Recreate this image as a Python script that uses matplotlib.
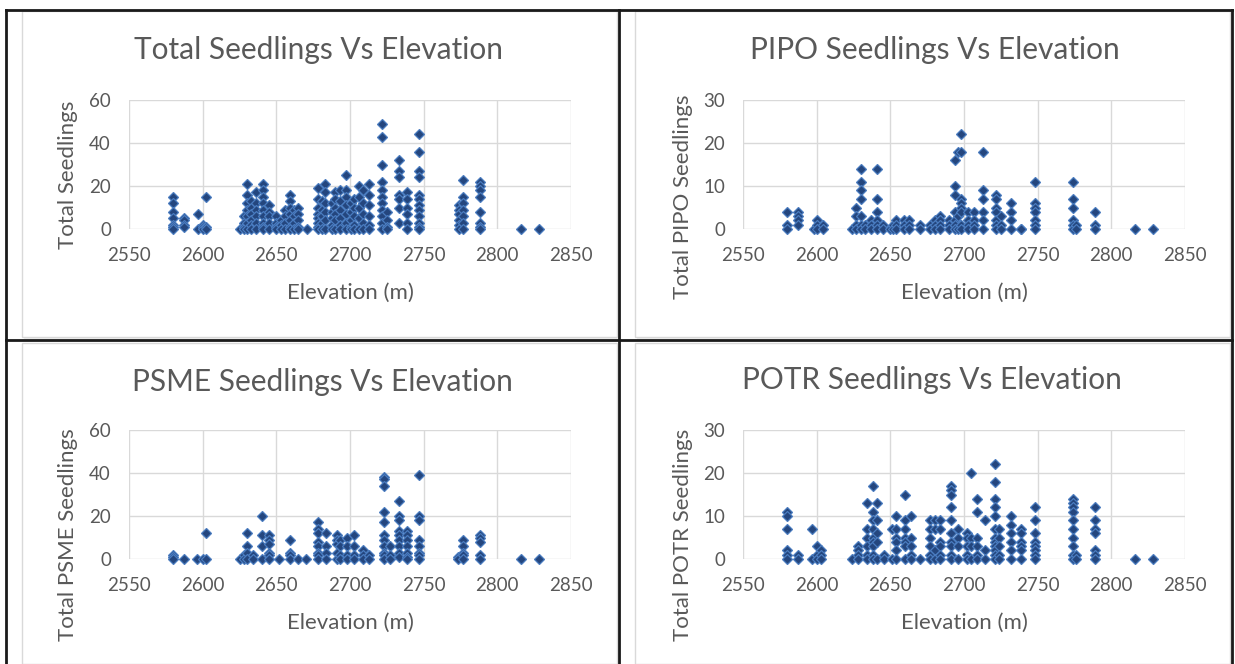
import numpy as np
import matplotlib
matplotlib.use("Agg")
import matplotlib.pyplot as plt
from matplotlib.patches import Rectangle
from matplotlib.lines import Line2D

# ---- data: elevation columns and the seedling counts read at each column ----
total_elev = [2580, 2587, 2597, 2600, 2602, 2625, 2628, 2630, 2633, 2636, 2641, 2645,
              2650, 2653, 2656, 2659, 2662, 2665, 2671, 2678, 2681, 2683, 2688, 2690,
              2693, 2697, 2701, 2703, 2706, 2709, 2713, 2722, 2725, 2733, 2739, 2747,
              2774, 2777, 2788, 2816, 2828]
total_vals = [[15, 12, 8, 5, 2, 1, 0], [5, 4, 2, 1], [7, 0], [2, 1, 0], [15, 1, 0], [0],
              [6, 3, 1, 0], [21, 16, 12, 9, 6, 3, 0], [13, 10, 7, 4, 2, 0],
              [17, 12, 9, 6, 3, 0], [21, 18, 15, 12, 9, 6, 3, 1, 0], [11, 8, 6, 3, 0],
              [6, 3, 1, 0], [4, 2, 0], [9, 6, 3, 0], [16, 13, 10, 7, 4, 1, 0], [9, 6, 3, 0],
              [10, 7, 4, 1, 0], [0], [19, 14, 10, 7, 5, 3, 1, 0], [13, 9, 6, 3, 0],
              [21, 17, 12, 8, 4, 0], [12, 8, 5, 2, 0], [17, 14, 10, 7, 4, 0],
              [18, 13, 9, 5, 2, 0], [25, 18, 15, 11, 7, 3, 0], [12, 8, 4, 1, 0],
              [14, 10, 6, 2, 0], [20, 15, 10, 5, 0], [18, 12, 7, 3, 0], [21, 16, 11, 6, 2, 0],
              [49, 43, 30, 22, 18, 15, 12, 9, 6, 3, 0], [8, 4, 1, 0],
              [32, 27, 24, 16, 14, 10, 3], [17, 14, 10, 7, 3, 0],
              [44, 36, 27, 24, 16, 14, 11, 9, 6, 3, 1, 0], [11, 9, 7, 4, 2, 0],
              [23, 15, 12, 9, 6, 3, 0], [22, 20, 18, 15, 8, 3, 1, 0], [0], [0]]

pipo_elev = [2580, 2587, 2598, 2600, 2604, 2624, 2627, 2630, 2633, 2637, 2641, 2645,
             2650, 2652, 2654, 2659, 2663, 2670, 2677, 2680, 2684, 2690, 2694, 2696,
             2698, 2703, 2707, 2713, 2722, 2725, 2732, 2739, 2748, 2774, 2776, 2789,
             2816, 2828]
pipo_vals = [[4, 1, 0], [4, 3, 2, 1], [0], [2, 1, 0], [1, 0], [0], [5, 3, 1, 0],
             [14, 11, 9, 7, 3, 1, 0], [1, 0], [2, 1, 0], [14, 7, 4, 2, 1, 0], [1, 0],
             [0], [1, 0], [2, 1, 0], [2, 1, 0], [2, 1, 0], [1, 0], [1, 0], [2, 1, 0],
             [3, 2, 1, 0], [2, 1, 0], [16, 10, 8, 4, 2, 1, 0], [18, 3, 0],
             [22, 18, 7, 6, 5, 4, 1, 0], [4, 2, 1, 0], [4, 2, 1, 0], [18, 9, 7, 4, 2, 0],
             [8, 7, 5, 4, 2, 1, 0], [3, 1, 0], [6, 4, 2, 0], [0, 0],
             [11, 6, 5, 4, 2, 1, 0], [11, 7, 5, 2, 1, 0], [1, 0], [4, 1, 0], [0], [0]]

psme_elev = [2580, 2587, 2596, 2600, 2602, 2625, 2628, 2630, 2634, 2640, 2645, 2652,
             2659, 2665, 2670, 2678, 2684, 2691, 2693, 2698, 2703, 2709, 2713, 2723,
             2727, 2733, 2739, 2747, 2773, 2777, 2788, 2816, 2828]
psme_vals = [[2, 1, 0], [0], [0], [0], [12, 0], [0], [2, 0], [12, 6, 3, 0], [2, 0],
             [20, 11, 6, 0], [11, 9, 7, 3, 2, 0], [0], [9, 3, 2, 0], [0], [0],
             [17, 14, 12, 8, 6, 3, 2, 0], [12, 6, 3, 0], [11, 9, 7, 3, 0], [9, 6, 2, 0],
             [10, 6, 2, 0], [11, 6, 2, 0], [4, 2, 0], [2, 0],
             [38, 37, 34, 22, 17, 11, 9, 6, 3, 2, 0], [6, 2, 0],
             [27, 20, 18, 13, 11, 9, 6, 3, 1], [13, 11, 9, 6, 3, 1, 0],
             [39, 20, 18, 9, 6, 3, 2, 0], [1, 0], [9, 6, 3, 2, 0], [11, 10, 8, 2, 0],
             [0], [0]]

potr_elev = [2580, 2587, 2597, 2600, 2603, 2624, 2628, 2634, 2638, 2641, 2646, 2651,
             2654, 2660, 2664, 2670, 2677, 2680, 2684, 2691, 2696, 2702, 2705, 2709,
             2714, 2721, 2724, 2732, 2739, 2748, 2774, 2776, 2789, 2816, 2828]
potr_vals = [[11, 10, 7, 2, 1, 0], [1, 0], [7, 0], [3, 1, 0], [2, 1, 0], [0],
             [3, 2, 1, 0], [13, 7, 5, 3, 1, 0], [17, 11, 9, 7, 5, 4, 3, 1, 0],
             [13, 9, 6, 4, 0], [1, 0], [7, 0], [10, 7, 5, 4, 2, 0],
             [15, 9, 7, 5, 4, 3, 0], [10, 5, 3, 1, 0], [0], [9, 7, 5, 3, 1, 0],
             [9, 7, 2, 0], [9, 7, 4, 3, 1, 0], [17, 16, 15, 12, 9, 6, 4, 3, 1, 0],
             [7, 5, 3, 0], [6, 5, 3, 1, 0], [20, 5, 3, 0], [14, 11, 5, 3, 1, 0],
             [9, 2, 0], [22, 18, 14, 12, 10, 7, 5, 4, 3, 2, 1, 0], [7, 5, 3, 1, 0],
             [10, 8, 6, 4, 2, 0], [7, 6, 4, 3, 2, 0], [12, 9, 6, 4, 3, 2, 1, 0],
             [14, 13, 12, 11, 9, 7, 5, 3, 1, 0], [1, 0], [12, 9, 7, 6, 2, 1, 0],
             [0], [0]]

titles = ["Total Seedlings Vs Elevation", "PIPO Seedlings Vs Elevation",
          "PSME Seedlings Vs Elevation", "POTR Seedlings Vs Elevation"]
ylabels = ["Total Seedlings", "Total PIPO Seedlings",
           "Total PSME Seedlings", "Total POTR Seedlings"]
xlabel = "Elevation (m)"
xticks = [2550, 2600, 2650, 2700, 2750, 2800, 2850]
yticks_60 = [0, 20, 40, 60]
yticks_30 = [0, 10, 20, 30]

W, H = 1235, 664
plt.rcParams['font.family'] = ['Lato', 'DejaVu Sans']
TXT = '#595959'

fig = plt.figure(figsize=(W / 100, H / 100), dpi=100)
fig.patch.set_facecolor('white')


def fx(px):
    return px / W


def fy(py):
    return 1 - py / H


# cell frames (black) and the chart boxes (light grey)
for (x0, y0, x1, y1) in [(22, 11, 617, 337), (635, 11, 1230, 337),
                         (22, 343, 617, 664), (635, 343, 1230, 664)]:
    fig.patches.append(Rectangle((fx(x0) + 0.002, fy(y1) - 0.004), fx(x1 - x0), fy(y0) - fy(y1),
                                 transform=fig.transFigure, fc='#EFEFEF', ec='none', zorder=0))
    fig.patches.append(Rectangle((fx(x0), fy(y1)), fx(x1 - x0), fy(y0) - fy(y1),
                                 transform=fig.transFigure, fc='white', ec='#D9D9D9',
                                 lw=1, zorder=0.5))
for (xa, ya, xb, yb) in [(6, 10, 1232, 10), (6, 340, 1232, 340), (6, 10, 6, 664),
                         (619, 10, 619, 664), (1232, 10, 1232, 664)]:
    fig.lines.append(Line2D([fx(xa), fx(xb)], [fy(ya), fy(yb)], transform=fig.transFigure,
                            color='#1a1a1a', lw=2, zorder=5))

panels = [
    (total_elev, total_vals, 129, 100, yticks_60, 319, 50, 68, 175),
    (pipo_elev, pipo_vals, 743, 100, yticks_30, 935, 50, 683, 197),
    (psme_elev, psme_vals, 129, 430, yticks_60, 322, 382, 68, 535),
    (potr_elev, potr_vals, 743, 430, yticks_30, 932, 380, 683, 535),
]

for i, (elev, vals, left, top, yt, tx, ty, lx, ly) in enumerate(panels):
    ax = fig.add_axes([fx(left), fy(top + 129), fx(442), 129 / H])
    ax.set_zorder(3)
    xs = []
    ys = []
    for e, col in zip(elev, vals):
        for v in col:
            xs.append(e)
            ys.append(v)
    ax.plot(xs, ys, linestyle='none', marker='D', ms=4.6, mfc='#24467E',
            mec='#4A7CC0', mew=0.9, zorder=3, clip_on=False)
    ax.set_xlim(2550, 2850)
    ax.set_ylim(yt[0], yt[-1])
    ax.set_xticks(xticks)
    ax.set_yticks(yt)
    ax.grid(True, color='#D9D9D9', lw=1)
    ax.set_axisbelow(True)
    for s in ax.spines.values():
        s.set_visible(False)
    ax.tick_params(length=0, labelsize=13.5, colors=TXT, pad=13)
    ax.tick_params(axis='x', pad=13)
    ax.set_facecolor('none')
    fig.text(fx(tx), fy(ty), titles[i], fontsize=21.5, color=TXT, ha='center', va='center',
             zorder=6)
    fig.text(fx(lx), fy(ly), ylabels[i], fontsize=16, color=TXT, ha='center',
             va='center', rotation=90, zorder=6)
    fig.text(fx(left + 221), fy(top + 193), xlabel, fontsize=16, color=TXT,
             ha='center', va='center', zorder=6)

fig.savefig('out.png', dpi=100, facecolor='white')
